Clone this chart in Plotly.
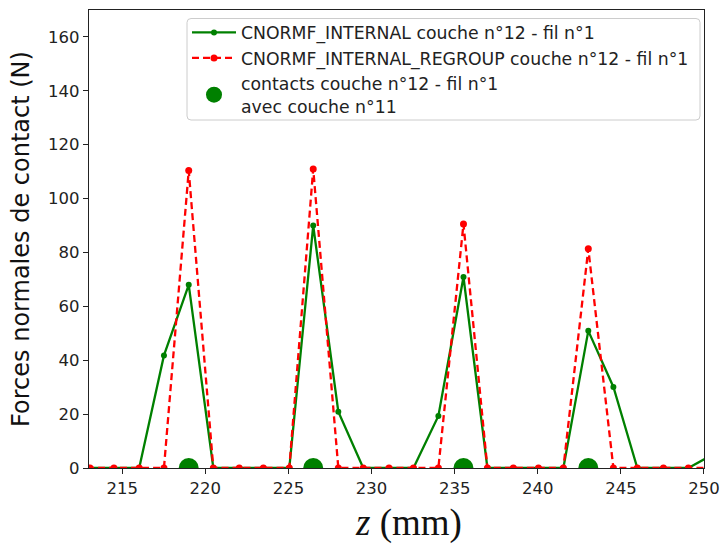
import plotly.graph_objects as go

z_mm = [211.56, 213.06, 214.50, 216.02, 217.51, 219.00, 220.48, 222.04, 223.49, 225.05, 226.49,
        228.00, 229.50, 231.05, 232.52, 234.02, 235.53, 236.97, 238.53, 240.04, 241.54,
        243.04, 244.55, 245.99, 247.56, 249.06, 250.55]
internal = [0, 0, 0, 0, 41.8, 68.0, 0, 0, 0, 0, 90.0,
            20.9, 0, 0, 0, 19.3, 70.9, 0, 0, 0, 0,
            50.9, 30.1, 0, 0, 0, 5.1]
regroup = [0, 0, 0, 0, 0, 110.4, 0, 0, 0, 0, 111.0,
           0, 0, 0, 0, 0, 90.6, 0, 0, 0, 0,
           81.4, 0, 0, 0, 0, 0]
contacts_z = [219.00, 226.49, 235.53, 243.04]
contacts_f = [0, 0, 0, 0]
x_ticks = [215, 220, 225, 230, 235, 240, 245, 250]
y_ticks = [0, 20, 40, 60, 80, 100, 120, 140, 160]

GREEN = "#008000"
RED = "#ff0000"
FONT = "DejaVu Sans"

fig = go.Figure()
fig.add_trace(go.Scatter(
    x=z_mm, y=internal, mode="lines+markers",
    name="CNORMF_INTERNAL couche n°12 - fil n°1",
    line=dict(color=GREEN, width=2.3),
    marker=dict(color=GREEN, size=6),
))
fig.add_trace(go.Scatter(
    x=z_mm, y=regroup, mode="lines+markers",
    name="CNORMF_INTERNAL_REGROUP couche n°12 - fil n°1",
    line=dict(color=RED, width=2.3, dash="7px,4px"),
    marker=dict(color=RED, size=7),
))
fig.add_trace(go.Scatter(
    x=contacts_z, y=contacts_f, mode="markers",
    name="contacts couche n°12 - fil n°1<br>avec couche n°11",
    marker=dict(color=GREEN, size=20),
    cliponaxis=True,
))

axis_common = dict(
    showline=True, linecolor="#222222", linewidth=1.3, mirror=True,
    ticks="outside", ticklen=5, tickwidth=1.2, tickcolor="#222222",
    showgrid=False, zeroline=False, ticklabeloverflow="allow", automargin=False,
    tickfont=dict(family=FONT, size=16.5, color="#222222"),
)

# legend frame (rounded rectangle) in paper coordinates (plot area 89..704 x 10..468)
pw, ph = 615.0, 458.0
x0, x1 = (187 - 89) / pw, (700 - 89) / pw
y0, y1 = (468 - 120) / ph, (468 - 18.5) / ph
rx, ry = 4 / pw, 4 / ph
frame_path = (f"M {x0+rx},{y1} L {x1-rx},{y1} Q {x1},{y1} {x1},{y1-ry} "
              f"L {x1},{y0+ry} Q {x1},{y0} {x1-rx},{y0} L {x0+rx},{y0} "
              f"Q {x0},{y0} {x0},{y0+ry} L {x0},{y1-ry} Q {x0},{y1} {x0+rx},{y1} Z")

fig.update_layout(
    width=721, height=544,
    margin=dict(l=89, r=17, t=10, b=76, autoexpand=False),
    paper_bgcolor="white", plot_bgcolor="white",
    xaxis=dict(range=[213, 250.001], tickvals=x_ticks, **axis_common),
    yaxis=dict(range=[0, 170], tickvals=y_ticks,
               title=dict(text="Forces normales de contact (N)", font=dict(family=FONT, size=24, color="#111111"),
                          standoff=11),
               **axis_common),
    shapes=[dict(type="path", path=frame_path, xref="paper", yref="paper",
                 fillcolor="rgba(255,255,255,0.85)", line=dict(color="#cccccc", width=1), layer="above")],
    annotations=[dict(text="<i>z</i> (mm)", xref="paper", yref="paper", x=(408 - 89) / pw, y=-0.069,
                      xanchor="center", yanchor="top", showarrow=False,
                      font=dict(family="Liberation Serif", size=37, color="#111111"))],
    legend=dict(x=x0, y=0.9897, xanchor="left", yanchor="top",
                bgcolor="rgba(0,0,0,0)", borderwidth=0,
                font=dict(family=FONT, size=17.3, color="#222222"),
                itemwidth=44, tracegroupgap=2),
    showlegend=True,
)

fig.write_html("out.html", config={"displayModeBar": False},
               post_script="document.body.style.margin='0';document.body.style.overflow='hidden';")
